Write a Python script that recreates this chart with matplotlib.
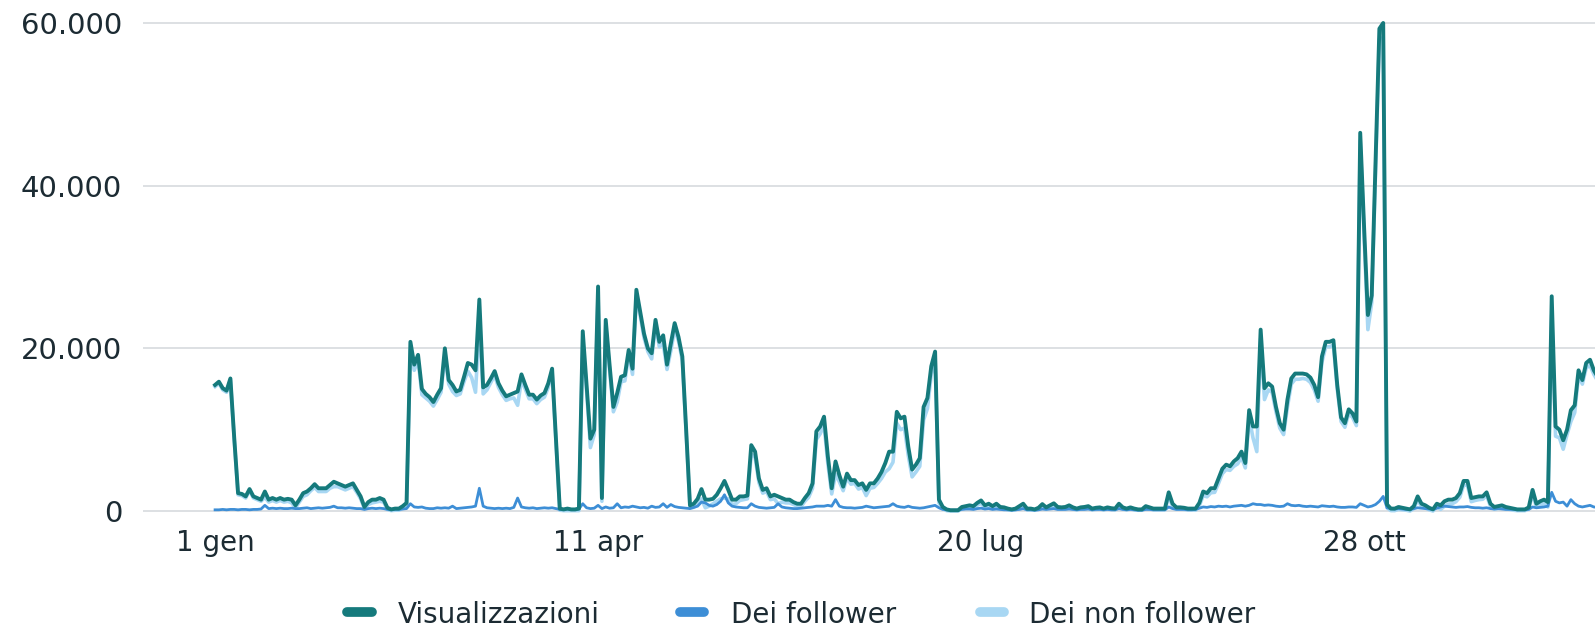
import matplotlib
matplotlib.use("Agg")
import matplotlib.pyplot as plt
from matplotlib.lines import Line2D
import numpy as np

plt.rcParams['font.family'] = ['DejaVu Sans']

# x ticks (day index from 1 gen), y ticks
tick_days = [0, 100, 200, 300]
tick_labels = ['1 gen', '11 apr', '20 lug', '28 ott']
y_ticks = [0, 20000, 40000, 60000]
y_labels = ['0', '20.000', '40.000', '60.000']
series_names = ['Visualizzazioni', 'Dei follower', 'Dei non follower']

# daily values, in thousands
views = [
    15.5, 15.9, 15.1, 14.8, 16.3, 9.0, 2.2, 2.1, 1.8, 2.7,
    1.8, 1.6, 1.4, 2.4, 1.4, 1.6, 1.4, 1.6, 1.4, 1.5,
    1.4, 0.7, 1.4, 2.2, 2.4, 2.8, 3.3, 2.8, 2.8, 2.8,
    3.2, 3.6, 3.4, 3.2, 3.0, 3.2, 3.4, 2.6, 1.8, 0.5,
    1.1, 1.4, 1.4, 1.6, 1.4, 0.4, 0.2, 0.3, 0.3, 0.6,
    1.0, 20.8, 18.0, 19.2, 15.0, 14.4, 14.0, 13.4, 14.3, 15.1,
    20.0, 16.1, 15.5, 14.7, 14.9, 16.5, 18.2, 18.0, 17.3, 26.0,
    15.2, 15.5, 16.3, 17.2, 15.7, 14.8, 14.1, 14.3, 14.5, 14.7,
    16.8, 15.5, 14.3, 14.3, 13.7, 14.2, 14.5, 15.7, 17.5, 9.0,
    0.3, 0.2, 0.3, 0.2, 0.2, 0.3, 22.1, 15.5, 8.9, 10.0,
    27.6, 1.6, 23.5, 18.0, 12.8, 14.5, 16.5, 16.7, 19.8, 17.5,
    27.2, 24.5, 21.8, 20.0, 19.4, 23.5, 20.8, 21.6, 18.0, 20.6,
    23.1, 21.4, 19.0, 10.0, 0.7, 0.9, 1.5, 2.7, 1.4, 1.4,
    1.5, 2.0, 2.8, 3.7, 2.6, 1.4, 1.4, 1.8, 1.8, 1.9,
    8.1, 7.3, 4.0, 2.6, 2.8, 1.8, 2.0, 1.8, 1.6, 1.4,
    1.4, 1.1, 0.9, 0.9, 1.6, 2.2, 3.4, 9.8, 10.4, 11.6,
    6.7, 2.8, 6.1, 4.4, 3.0, 4.6, 3.8, 3.8, 3.2, 3.4,
    2.6, 3.4, 3.4, 4.0, 4.8, 5.9, 7.3, 7.3, 12.2, 11.4,
    11.6, 7.9, 5.1, 5.7, 6.5, 12.8, 13.9, 17.8, 19.6, 1.4,
    0.5, 0.2, 0.1, 0.1, 0.1, 0.5, 0.6, 0.7, 0.6, 1.0,
    1.3, 0.7, 0.9, 0.6, 0.9, 0.5, 0.45, 0.3, 0.2, 0.3,
    0.6, 0.9, 0.3, 0.3, 0.2, 0.4, 0.85, 0.45, 0.7, 0.95,
    0.5, 0.45, 0.5, 0.7, 0.45, 0.3, 0.45, 0.5, 0.6, 0.3,
    0.4, 0.45, 0.3, 0.45, 0.35, 0.3, 0.9, 0.45, 0.3, 0.45,
    0.3, 0.2, 0.2, 0.6, 0.45, 0.3, 0.3, 0.3, 0.3, 2.3,
    0.9, 0.45, 0.45, 0.4, 0.3, 0.3, 0.3, 1.0, 2.4, 2.2,
    2.8, 2.8, 4.0, 5.2, 5.7, 5.5, 6.1, 6.5, 7.3, 5.9,
    12.4, 10.4, 10.4, 22.3, 15.1, 15.7, 15.3, 12.8, 10.8, 10.0,
    13.7, 16.3, 16.9, 16.9, 16.9, 16.8, 16.4, 15.5, 14.0, 19.0,
    20.8, 20.8, 21.0, 15.5, 11.5, 10.8, 12.5, 12.0, 11.0, 46.5,
    35.0, 24.1, 26.5, 43.0, 59.3, 60.0, 0.8, 0.3, 0.3, 0.5,
    0.4, 0.3, 0.2, 0.6, 1.8, 0.9, 0.7, 0.4, 0.2, 0.9,
    0.7, 1.2, 1.4, 1.4, 1.6, 2.2, 3.7, 3.7, 1.6, 1.7,
    1.8, 1.8, 2.3, 0.9, 0.5, 0.6, 0.7, 0.5, 0.4, 0.3,
    0.2, 0.2, 0.2, 0.45, 2.6, 0.9, 1.2, 1.4, 1.1, 26.4,
    10.4, 10.0, 8.7, 10.0, 12.4, 13.0, 17.3, 16.1, 18.2, 18.6,
    17.3, 16.5,
]

followers = [
    0.15, 0.15, 0.2, 0.15, 0.2, 0.2, 0.15, 0.2, 0.2, 0.15,
    0.2, 0.2, 0.25, 0.7, 0.3, 0.35, 0.3, 0.35, 0.3, 0.3,
    0.35, 0.3, 0.3, 0.35, 0.4, 0.3, 0.35, 0.4, 0.35, 0.4,
    0.45, 0.6, 0.4, 0.4, 0.35, 0.4, 0.35, 0.3, 0.3, 0.2,
    0.3, 0.35, 0.3, 0.35, 0.3, 0.2, 0.15, 0.2, 0.2, 0.25,
    0.3, 0.9, 0.5, 0.45, 0.5, 0.35, 0.3, 0.3, 0.4, 0.35,
    0.4, 0.35, 0.6, 0.3, 0.35, 0.4, 0.45, 0.5, 0.6, 2.8,
    0.6, 0.4, 0.35, 0.3, 0.35, 0.3, 0.35, 0.3, 0.45, 1.6,
    0.5, 0.4, 0.35, 0.4, 0.3, 0.35, 0.4, 0.35, 0.4, 0.3,
    0.2, 0.2, 0.25, 0.2, 0.2, 0.25, 0.9, 0.4, 0.3, 0.35,
    0.7, 0.3, 0.5, 0.35, 0.4, 0.9, 0.4, 0.5, 0.45, 0.6,
    0.5, 0.4, 0.45, 0.35, 0.6, 0.45, 0.5, 0.9, 0.45, 0.8,
    0.55, 0.45, 0.4, 0.35, 0.3, 0.45, 0.6, 1.1, 1.0, 0.7,
    0.6, 0.8, 1.2, 2.0, 1.0, 0.6, 0.5, 0.45, 0.4, 0.4,
    0.9, 0.6, 0.45, 0.4, 0.35, 0.4, 0.45, 0.9, 0.5, 0.4,
    0.35, 0.3, 0.3, 0.35, 0.4, 0.45, 0.5, 0.6, 0.6, 0.6,
    0.7, 0.6, 1.4, 0.6, 0.45, 0.4, 0.4, 0.35, 0.4, 0.45,
    0.6, 0.5, 0.4, 0.45, 0.5, 0.55, 0.6, 0.9, 0.6, 0.5,
    0.45, 0.6, 0.45, 0.4, 0.35, 0.4, 0.5, 0.6, 0.7, 0.4,
    0.2, 0.15, 0.1, 0.1, 0.1, 0.2, 0.25, 0.25, 0.2, 0.3,
    0.35, 0.25, 0.3, 0.2, 0.25, 0.2, 0.15, 0.15, 0.1, 0.15,
    0.2, 0.3, 0.15, 0.15, 0.1, 0.15, 0.25, 0.2, 0.25, 0.3,
    0.2, 0.2, 0.2, 0.25, 0.2, 0.15, 0.2, 0.2, 0.25, 0.15,
    0.2, 0.2, 0.15, 0.2, 0.15, 0.15, 0.3, 0.2, 0.15, 0.2,
    0.15, 0.1, 0.1, 0.2, 0.2, 0.15, 0.15, 0.15, 0.15, 0.5,
    0.3, 0.2, 0.2, 0.2, 0.15, 0.15, 0.2, 0.35, 0.5, 0.45,
    0.55, 0.5, 0.6, 0.55, 0.6, 0.5, 0.6, 0.65, 0.7, 0.6,
    0.7, 0.9, 0.8, 0.8, 0.7, 0.75, 0.7, 0.6, 0.55, 0.6,
    0.9, 0.7, 0.65, 0.7, 0.6, 0.55, 0.6, 0.55, 0.5, 0.65,
    0.6, 0.55, 0.6, 0.5, 0.45, 0.45, 0.5, 0.5, 0.45, 0.9,
    0.7, 0.5, 0.6, 0.8, 1.2, 1.8, 0.4, 0.3, 0.25, 0.3,
    0.25, 0.2, 0.2, 0.3, 0.4, 0.35, 0.3, 0.25, 0.2, 0.35,
    0.5, 0.6, 0.55, 0.5, 0.45, 0.5, 0.5, 0.55, 0.45, 0.4,
    0.4, 0.35, 0.4, 0.3, 0.25, 0.3, 0.25, 0.2, 0.2, 0.2,
    0.15, 0.15, 0.15, 0.2, 0.5, 0.4, 0.45, 0.5, 0.6, 2.3,
    1.2, 1.0, 1.1, 0.6, 1.4, 0.9, 0.6, 0.5, 0.6, 0.7,
    0.5, 0.45,
]

non_followers = [
    15.3, 15.7, 14.9, 14.6, 16.1, 8.8, 2.0, 1.9, 1.6, 2.5,
    1.6, 1.4, 1.2, 1.7, 1.1, 1.3, 1.1, 1.3, 1.1, 1.2,
    1.0, 0.4, 1.1, 1.8, 2.0, 2.5, 2.9, 2.4, 2.4, 2.4,
    2.8, 3.0, 3.0, 2.8, 2.6, 2.8, 3.0, 2.3, 1.5, 0.3,
    0.8, 1.0, 1.1, 1.2, 1.1, 0.2, 0.05, 0.1, 0.1, 0.35,
    0.7, 19.9, 17.3, 18.6, 14.3, 13.9, 13.5, 12.9, 13.7, 14.6,
    19.2, 15.6, 14.7, 14.2, 14.4, 15.9, 17.2, 16.4, 14.6, 23.0,
    14.4, 14.9, 15.8, 16.7, 15.2, 14.3, 13.6, 13.8, 13.9, 13.0,
    16.1, 15.0, 13.8, 13.8, 13.2, 13.7, 14.0, 15.2, 17.0, 8.6,
    0.1, 0.05, 0.05, 0.05, 0.05, 0.05, 21.0, 14.8, 7.8, 9.4,
    26.7, 1.2, 22.8, 17.4, 12.2, 13.4, 15.9, 16.0, 19.2, 16.8,
    26.5, 24.0, 21.3, 19.6, 18.7, 22.9, 20.2, 20.6, 17.4, 19.7,
    22.4, 20.9, 18.5, 9.6, 0.4, 0.45, 0.9, 1.5, 0.4, 0.6,
    0.9, 1.2, 1.5, 1.6, 1.5, 0.8, 0.9, 1.3, 1.4, 1.5,
    7.0, 6.6, 3.5, 2.2, 2.4, 1.4, 1.5, 0.9, 1.1, 1.0,
    1.0, 0.8, 0.6, 0.55, 1.2, 1.7, 2.8, 8.8, 9.5, 10.6,
    5.8, 2.1, 4.5, 3.6, 2.5, 4.1, 3.3, 3.4, 2.7, 2.9,
    1.9, 2.8, 2.9, 3.4, 4.0, 4.8, 5.2, 6.0, 10.8, 10.0,
    10.2, 6.8, 4.2, 4.8, 5.5, 11.2, 12.6, 16.8, 18.8, 1.0,
    0.3, 0.05, 0.0, 0.0, 0.0, 0.3, 0.35, 0.45, 0.4, 0.7,
    0.95, 0.45, 0.6, 0.4, 0.65, 0.3, 0.3, 0.15, 0.1, 0.15,
    0.4, 0.6, 0.15, 0.15, 0.1, 0.25, 0.6, 0.25, 0.45, 0.65,
    0.3, 0.25, 0.3, 0.45, 0.25, 0.15, 0.25, 0.3, 0.35, 0.15,
    0.2, 0.25, 0.15, 0.25, 0.2, 0.15, 0.6, 0.25, 0.15, 0.25,
    0.15, 0.1, 0.1, 0.4, 0.25, 0.15, 0.15, 0.15, 0.15, 1.8,
    0.6, 0.25, 0.25, 0.2, 0.15, 0.15, 0.1, 0.65, 1.9, 1.75,
    2.25, 2.3, 3.4, 4.6, 5.1, 5.0, 5.5, 5.8, 6.6, 5.3,
    11.5, 9.0, 7.3, 21.2, 13.7, 14.9, 14.6, 12.2, 10.2, 9.4,
    12.8, 15.6, 16.2, 16.2, 16.3, 16.2, 15.8, 14.9, 13.5, 18.3,
    20.2, 20.2, 20.4, 15.0, 11.0, 10.3, 12.0, 11.5, 10.5, 45.5,
    34.0, 22.3, 25.6, 42.0, 58.0, 58.2, 0.4, 0.05, 0.05, 0.2,
    0.15, 0.1, 0.0, 0.3, 1.4, 0.55, 0.4, 0.15, 0.0, 0.55,
    0.2, 0.6, 0.85, 0.9, 1.15, 1.7, 3.2, 3.15, 1.15, 1.3,
    1.4, 1.45, 1.9, 0.6, 0.25, 0.3, 0.45, 0.3, 0.2, 0.1,
    0.05, 0.05, 0.05, 0.25, 2.1, 0.5, 0.75, 0.9, 0.5, 24.1,
    9.2, 9.0, 7.6, 9.4, 11.0, 12.1, 16.7, 15.6, 17.6, 17.9,
    16.8, 16.0,
]

colors = ['#157a7c', '#3d8ed6', '#a8d7f3']
text_col = '#1c2b33'

days = np.arange(len(views))

fig = plt.figure(figsize=(15.95, 6.38), dpi=100)
ax = fig.add_axes([0.0897, 0.1735, 0.9103, 0.816])

ax.plot(days, np.array(non_followers) * 1000, color=colors[2], lw=2.6,
        zorder=2, solid_joinstyle='round')
ax.plot(days, np.array(followers) * 1000, color=colors[1], lw=2.0,
        zorder=3, solid_joinstyle='round')
ax.plot(days, np.array(views) * 1000, color=colors[0], lw=2.8,
        zorder=4, solid_joinstyle='round')

ax.set_xlim(-18.8, 360.3)
ax.set_ylim(-2000, 62000)
for s in ax.spines.values():
    s.set_visible(False)

ax.set_yticks(y_ticks)
ax.set_yticklabels(y_labels)
ax.set_xticks(tick_days)
ax.set_xticklabels(tick_labels)
ax.tick_params(length=0, labelsize=20, colors=text_col)
ax.tick_params(axis='y', pad=15, labelsize=21)
ax.tick_params(axis='x', pad=1)
ax.grid(axis='y', color='#dadde1', lw=1.3)
ax.grid(axis='x', visible=False)
ax.set_axisbelow(True)

# legend drawn by hand below the plot
W, H = 1595.0, 638.0
leg_y = (H - 612) / H
marker_px = [(347, 372), (680, 704), (980, 1004)]
text_px = [398, 731, 1029]
for (x0, x1), tx, col, name in zip(marker_px, text_px, colors, series_names):
    fig.add_artist(Line2D([x0 / W, x1 / W], [leg_y, leg_y], transform=fig.transFigure,
                          color=col, lw=7, solid_capstyle='round'))
    fig.text(tx / W, leg_y, name, fontsize=20, color=text_col,
             ha='left', va='center_baseline')

fig.savefig('out.png', dpi=100)
